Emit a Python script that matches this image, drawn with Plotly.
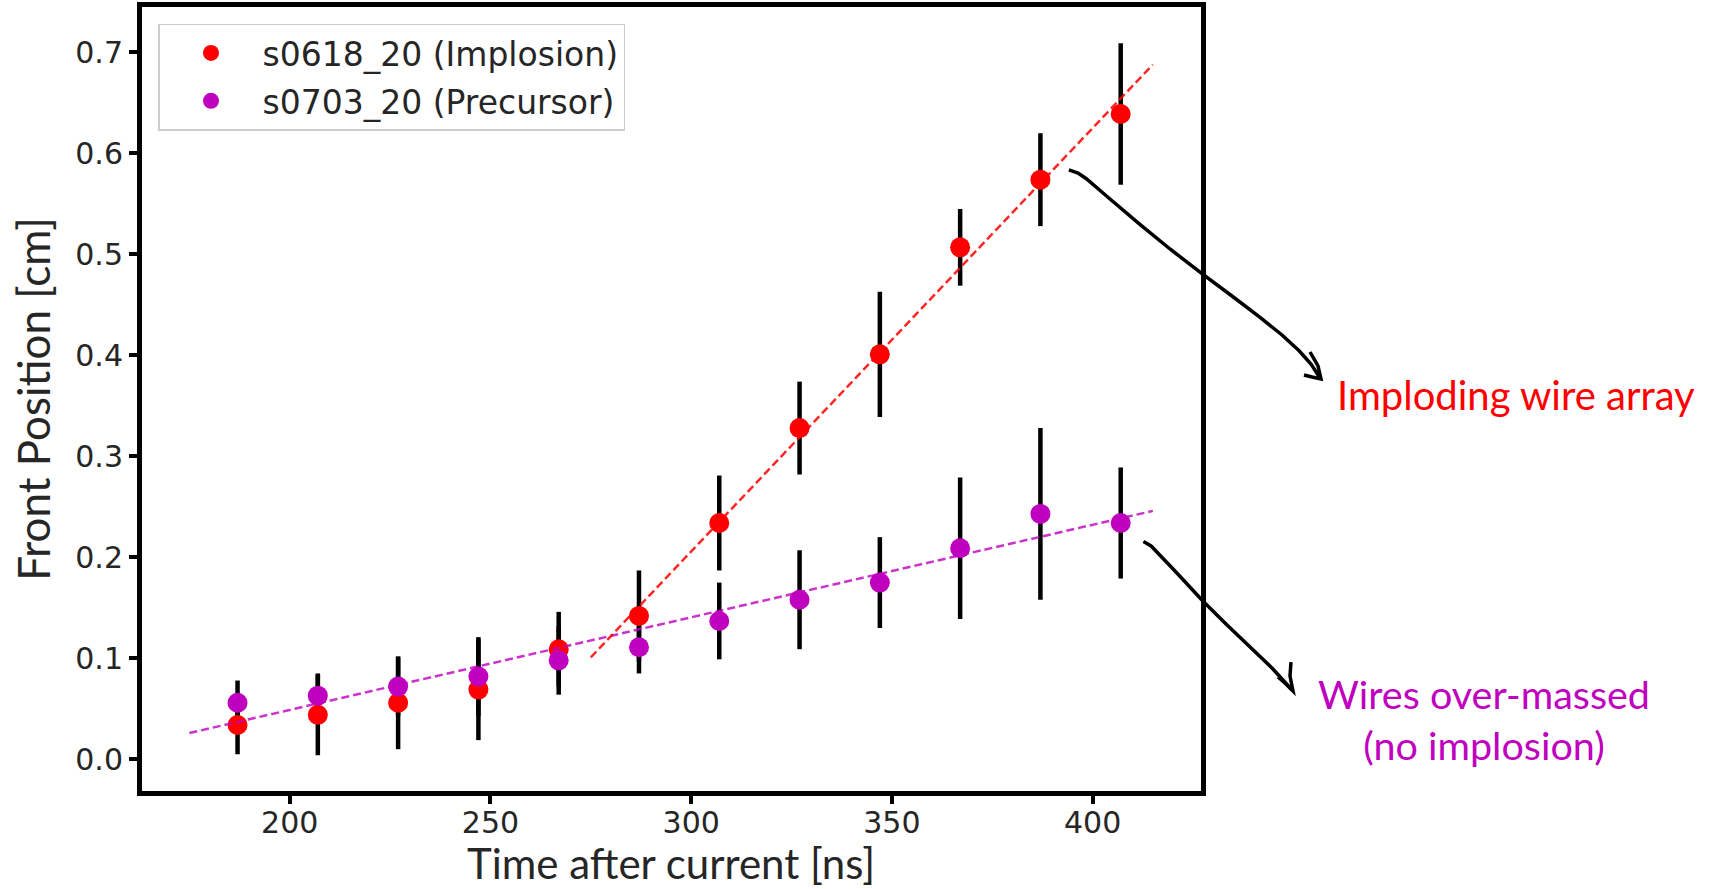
import plotly.graph_objects as go

# ---- data ----
time_ns = [187, 207, 227, 247, 267, 287, 307, 327, 347, 367, 387, 407]
implosion = [0.034, 0.044, 0.056, 0.069, 0.109, 0.142, 0.234, 0.328, 0.401, 0.507, 0.574, 0.639]
implosion_err = [0.029, 0.040, 0.046, 0.050, 0.037, 0.045, 0.047, 0.046, 0.062, 0.038, 0.046, 0.070]
precursor = [0.056, 0.063, 0.072, 0.082, 0.098, 0.111, 0.137, 0.158, 0.175, 0.209, 0.243, 0.234]
precursor_err = [0.022, 0.022, 0.029, 0.039, 0.034, 0.026, 0.038, 0.049, 0.045, 0.070, 0.085, 0.055]
fit_imp_t = [275, 415]
fit_imp_y = [0.101, 0.688]
fit_pre_t = [175, 415]
fit_pre_y = [0.026, 0.246]

names = ["s0618_20 (Implosion)", "s0703_20 (Precursor)"]
RED = "#ff0000"
MAG = "#bf00bf"

# ---- layout geometry (pixels) ----
FW, FH = 1719, 889
ML, MR, MT, MB = 142, 518, 7, 98
PW, PH = FW - ML - MR, FH - MT - MB


def paper(px, py):
    return (px - ML) / PW, (FH - MB - py) / PH


fig = go.Figure()

# error bars first (under markers)
for ys, es in [(implosion, implosion_err), (precursor, precursor_err)]:
    fig.add_trace(go.Scatter(
        x=time_ns, y=ys, mode="markers",
        marker=dict(size=1, color="rgba(0,0,0,0)"),
        error_y=dict(type="data", array=es, symmetric=True, color="black",
                     thickness=4.5, width=0),
        showlegend=False, hoverinfo="skip"))

fig.add_trace(go.Scatter(x=time_ns, y=implosion, mode="markers", name=names[0],
                         legendgroup="a",
                         marker=dict(size=20, color=RED)))
fig.add_trace(go.Scatter(x=time_ns, y=precursor, mode="markers", name=names[1],
                         legendgroup="b",
                         marker=dict(size=20, color=MAG)))

fig.add_trace(go.Scatter(x=fit_pre_t, y=fit_pre_y, mode="lines", showlegend=False,
                         line=dict(color=MAG, width=2.5, dash="8px,4px"), opacity=0.8))
fig.add_trace(go.Scatter(x=fit_imp_t, y=fit_imp_y, mode="lines", showlegend=False,
                         line=dict(color=RED, width=2.5, dash="8px,4px"), opacity=0.85))


def path_from(points):
    pts = [paper(x, y) for x, y in points]
    return "M " + " L ".join(f"{a:.5f},{b:.5f}" for a, b in pts)


arrow1 = [(1068.9, 169.9), (1078, 173), (1086, 178.5), (1110, 199), (1140.2, 224.7),
          (1170, 249), (1202.6, 274.1), (1232, 296), (1260.7, 317.9), (1282, 335),
          (1299.1, 350.8), (1311, 364), (1320, 378)]
head1 = [(1310, 352), (1318, 366), (1321, 379), (1312, 377), (1304, 375)]
arrow2 = [(1143.4, 541.6), (1151.1, 546), (1175, 571), (1202.6, 600.8), (1226, 624),
          (1249.8, 646.8), (1272, 668), (1292, 690)]
head2 = [(1291, 662), (1290, 676), (1293, 691), (1286, 684), (1278, 677)]

for pts in [arrow1, head1, arrow2, head2]:
    fig.add_shape(type="path", xref="paper", yref="paper", path=path_from(pts),
                  line=dict(color="black", width=3.5))

ax1, ay1 = paper(1516, 395)
ax2, ay2 = paper(1484, 719)
fig.add_annotation(x=ax1, y=ay1, xref="paper", yref="paper", text="Imploding wire array",
                   showarrow=False, font=dict(family="Lato", size=40, color=RED),
                   xanchor="center", yanchor="middle")
fig.add_annotation(x=ax2, y=ay2, xref="paper", yref="paper",
                   text="Wires over-massed<br>(no implosion)",
                   showarrow=False, font=dict(family="Lato", size=39.5, color=MAG),
                   xanchor="center", yanchor="middle", align="center")

# x-axis title placed as annotation, flush with the bottom edge
tx, ty = paper(671, 889)
fig.add_annotation(x=tx, y=ty, xref="paper", yref="paper", text="Time after current [ns]",
                   showarrow=False, font=dict(family="Lato", size=42, color="#262626"),
                   xanchor="center", yanchor="bottom", borderpad=0)

axis_common = dict(showline=True, linewidth=5, linecolor="black", mirror=True,
                   ticks="outside", ticklen=8, tickwidth=4, tickcolor="black",
                   showgrid=False, zeroline=False, automargin=False,
                   tickfont=dict(family="DejaVu Sans", size=30, color="#262626"))

fig.update_xaxes(range=[163.2, 427], tickvals=[200, 250, 300, 350, 400],
                 ticklabelstandoff=-7,
                 **axis_common)
fig.update_yaxes(range=[-0.0314, 0.745], tickvals=[0, 0.1, 0.2, 0.3, 0.4, 0.5, 0.6, 0.7],
                 tickformat=".1f",
                 title=dict(text="Front Position [cm]", standoff=12,
                            font=dict(family="Lato", size=44, color="#262626")),
                 **axis_common)

lx, ly = paper(158, 23.5)
fig.update_layout(
    width=FW, height=FH,
    margin=dict(l=ML, r=MR, t=MT, b=MB),
    paper_bgcolor="white", plot_bgcolor="white",
    legend=dict(x=lx, y=ly, xanchor="left", yanchor="top",
                bgcolor="white", bordercolor="#cccccc", borderwidth=1.5,
                font=dict(family="DejaVu Sans", size=33, color="#262626"),
                itemwidth=93, tracegroupgap=2),
)

fig.write_html("out.html")
